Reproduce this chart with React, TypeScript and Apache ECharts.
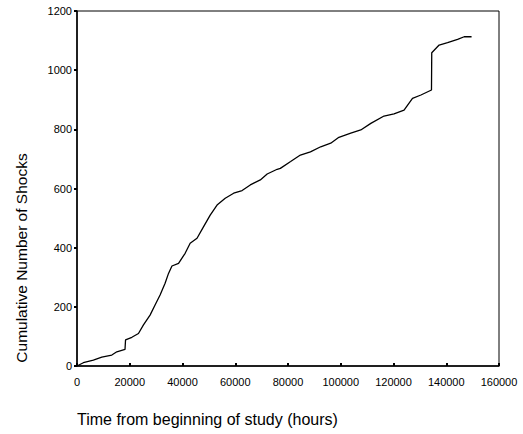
import React, { useEffect, useRef } from "react";
import * as echarts from "echarts";

const hours = [
  0, 2400, 6200, 9400, 13200, 15100, 18200, 18400, 20800, 23300, 25200, 27700, 29600, 31500,
  33400, 34700, 36000, 38500, 41000, 42900, 45500, 48000, 50500, 53100, 56200, 59400, 62600,
  65700, 69500, 72100, 75900, 77100, 81000, 84700, 88500, 92400, 96200, 99300, 103800, 107600,
  111400, 116400, 120200, 124000, 127200, 130400, 134400, 134500, 137300, 140500, 144300,
  146800, 149600,
];
const shocks = [
  0, 11, 20, 30, 37, 48, 56, 88, 97, 110, 139, 172, 206, 240,
  280, 313, 338, 347, 381, 415, 432, 471, 510, 544, 567, 584, 593,
  612, 629, 649, 665, 668, 691, 713, 724, 741, 753, 773, 787, 798,
  820, 845, 852, 865, 905, 916, 933, 1059, 1085, 1093, 1104,
  1113, 1113,
];

const xTitle = "Time from beginning of study (hours)";
const yTitle = "Cumulative Number of Shocks";

export default function App() {
  const ref = useRef<HTMLDivElement>(null);
  useEffect(() => {
    const chart = echarts.init(ref.current!, null, { renderer: "svg" });
    const font = "'Liberation Sans', Arial, sans-serif";
    chart.setOption({
      animation: false,
      backgroundColor: "#fff",
      grid: {
        left: 77,
        right: 24,
        top: 11,
        bottom: 68,
        show: true,
        borderColor: "#000",
        borderWidth: 1,
        backgroundColor: "transparent",
      },
      xAxis: {
        type: "value",
        min: 0,
        max: 160000,
        interval: 20000,
        axisLine: { lineStyle: { color: "#000", width: 1.5 } },
        axisTick: { show: true, length: 3, inside: true, lineStyle: { color: "#000", width: 2 } },
        axisLabel: {
          color: "#000",
          fontFamily: font,
          fontSize: 11,
          margin: 10,
          formatter: (v: number) => String(v),
        },
        splitLine: { show: false },
      },
      yAxis: {
        type: "value",
        min: 0,
        max: 1200,
        interval: 200,
        axisLine: { lineStyle: { color: "#000", width: 1.5 } },
        axisTick: { show: true, length: 3, lineStyle: { color: "#000", width: 2 } },
        axisLabel: {
          color: "#000",
          fontFamily: font,
          fontSize: 11,
          margin: 5,
          formatter: (v: number) => String(v),
        },
        splitLine: { show: false },
      },
      series: [
        {
          type: "line",
          data: hours.map((h, i) => [h, shocks[i]]),
          showSymbol: false,
          symbol: "none",
          lineStyle: { color: "#000", width: 1.3 },
        },
      ],
      graphic: [
        {
          type: "text",
          left: 77,
          top: 411,
          style: { text: xTitle, fill: "#000", font: `16px ${font}` },
        },
        {
          type: "text",
          x: 21,
          y: 258,
          rotation: Math.PI / 2,
          style: {
            text: yTitle,
            fill: "#000",
            font: `15.5px ${font}`,
            align: "center",
            verticalAlign: "middle",
          },
        },
      ],
    });
    return () => chart.dispose();
  }, []);
  return (
    <div
      ref={ref}
      style={{ position: "fixed", left: 0, top: 0, width: 523, height: 434, background: "#fff" }}
    />
  );
}
